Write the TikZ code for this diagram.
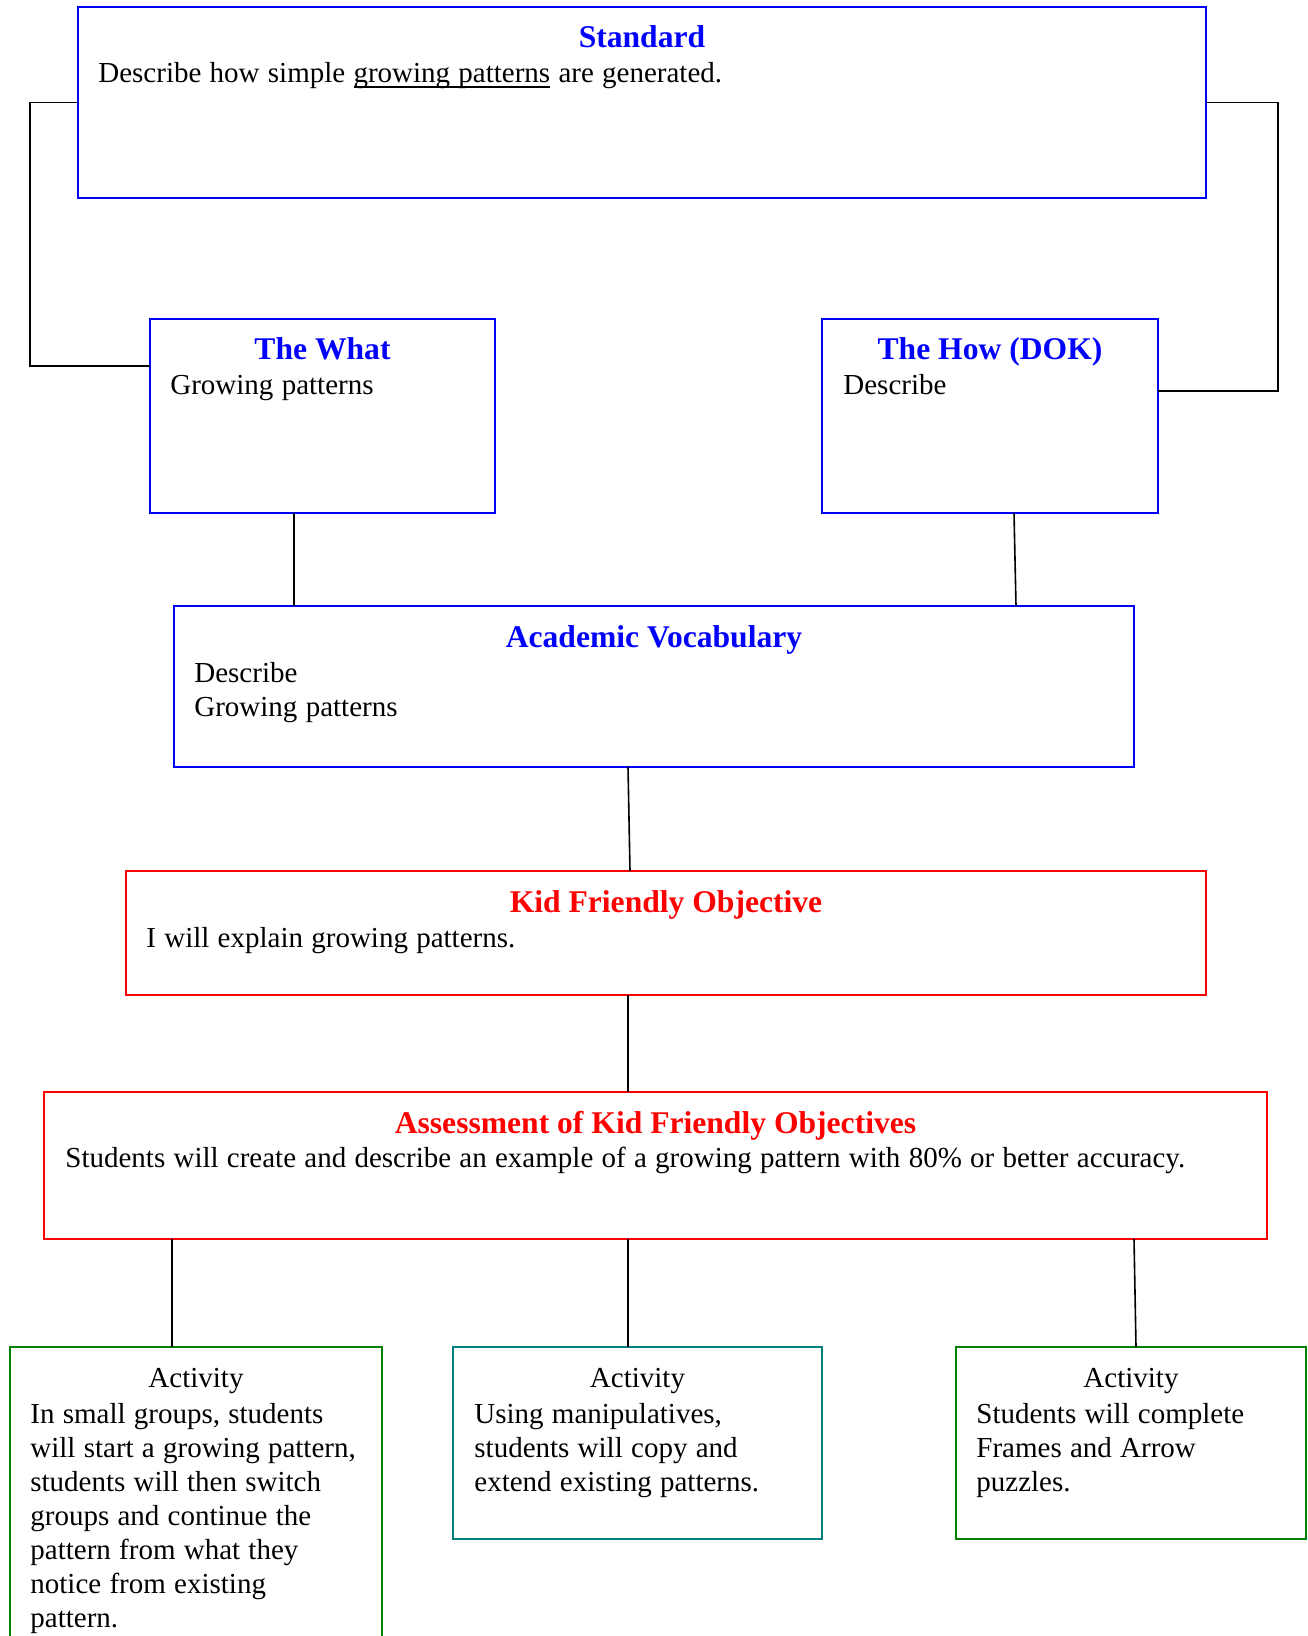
\documentclass[tikz,border=0pt]{standalone}
\usepackage{fontspec}
\setmainfont{Liberation Serif}
\definecolor{stdblue}{RGB}{0,0,255}
\definecolor{kidred}{RGB}{255,0,0}
\definecolor{actgreen}{RGB}{0,128,0}
\definecolor{actteal}{RGB}{0,128,128}
\newcommand\bodyfont{\fontsize{14.5pt}{17pt}\selectfont}
\newcommand\headfont{\fontsize{15.8pt}{17pt}\selectfont\bfseries}
\newcommand\undertext[1]{\setbox0\hbox{#1}\rlap{\rule[-2.6pt]{\wd0}{0.9pt}}\box0\relax}

\begin{document}
\begin{tikzpicture}[x=0.5pt, y=-0.5pt,
  frame/.style = {shape=rectangle, draw, line width=1pt,
    inner sep=0pt, outer sep=0pt, anchor=north west},
  head/.style = {anchor=base, inner sep=0pt, font=\headfont},
  acthead/.style = {anchor=base, inner sep=0pt, font=\bodyfont},
  body/.style = {anchor=base west, inner sep=0pt, align=left,
    text width=600pt, font=\bodyfont,
    execute at begin node={\spaceskip=0.285em\relax}},
  link/.style = {line width=0.8pt}]
  \useasboundingbox (0,0) rectangle (1307,1636);
  \node[frame, draw=stdblue, minimum width=564pt, minimum height=95.5pt] (std) at (78,7) {};
  \node[frame, draw=stdblue, minimum width=172.5pt, minimum height=97pt] (what) at (150,319) {};
  \node[frame, draw=stdblue, minimum width=168pt, minimum height=97pt] (how) at (822,319) {};
  \node[frame, draw=stdblue, minimum width=480pt, minimum height=80.5pt] (voc) at (174,606) {};
  \node[frame, draw=kidred, minimum width=540pt, minimum height=62pt] (kfo) at (126,871) {};
  \node[frame, draw=kidred, minimum width=611.5pt, minimum height=73.5pt] (ass) at (44,1092) {};
  \node[frame, draw=actgreen, minimum width=186pt, minimum height=150pt] (act1) at (10,1347) {};
  \node[frame, draw=actteal, minimum width=184.5pt, minimum height=96pt] (act2) at (453,1347) {};
  \node[frame, draw=actgreen, minimum width=175pt, minimum height=96pt] (act3) at (956,1347) {};

  \node[head, text=stdblue] (stdhead) at ([yshift=-20.5pt]std.north) {Standard};
  \node[body] (stdtext) at ([xshift=10pt, yshift=-38pt]std.north west)
    {Describe how simple \undertext{growing patterns} are generated.};
  \node[head, text=stdblue] (whathead) at ([yshift=-20.5pt]what.north) {The What};
  \node[body] (whattext) at ([xshift=10pt, yshift=-38pt]what.north west) {Growing patterns};
  \node[head, text=stdblue] (howhead) at ([yshift=-20.5pt]how.north) {The How (DOK)};
  \node[body] (howtext) at ([xshift=10.5pt, yshift=-38pt]how.north west) {Describe};
  \node[head, text=stdblue] (vochead) at ([yshift=-20.5pt]voc.north) {Academic Vocabulary};
  \node[body] (voctext) at ([xshift=10pt, yshift=-38pt]voc.north west) {Describe\\Growing patterns};
  \node[head, text=kidred] (kfohead) at ([yshift=-20.5pt]kfo.north) {Kid Friendly Objective};
  \node[body] (kfotext) at ([xshift=10pt, yshift=-38pt]kfo.north west) {I will explain growing patterns.};
  \node[head, text=kidred] (asshead) at ([yshift=-20.5pt]ass.north) {Assessment of Kid Friendly Objectives};
  \node[body] (asstext) at ([xshift=10.5pt, yshift=-37.5pt]ass.north west)
    {Students will create and describe an example of a growing pattern with 80\% or better accuracy.};
  \node[acthead] (act1head) at ([yshift=-20pt]act1.north) {Activity};
  \node[body] (act1text) at ([xshift=10pt, yshift=-38pt]act1.north west)
    {In small groups, students\\will start a growing pattern,\\students will then switch\\groups and continue the\\pattern from what they\\notice from existing\\pattern.};
  \node[acthead] (act2head) at ([yshift=-20pt]act2.north) {Activity};
  \node[body] (act2text) at ([xshift=10.5pt, yshift=-38pt]act2.north west)
    {Using manipulatives,\\students will copy and\\extend existing patterns.};
  \node[acthead] (act3head) at ([yshift=-20pt]act3.north) {Activity};
  \node[body] (act3text) at ([xshift=10pt, yshift=-38pt]act3.north west)
    {Students will complete\\Frames and Arrow\\puzzles.};

  \draw[link] (std.west) -- ++(-24pt,0) |- ([yshift=-23.5pt]what.north west);
  \draw[link] (std.east) -- ++(36pt,0) |- ([yshift=-36pt]how.north east);
  \draw[link] ([xshift=-14.25pt]what.south) -- ([xshift=-14.25pt]what.south |- voc.north);
  \draw[link] ([xshift=12pt]how.south) -- ([xshift=13pt]how.south |- voc.north);
  \draw[link] ([xshift=-13pt]voc.south) -- ([xshift=-12pt]voc.south |- kfo.north);
  \draw[link] ([xshift=-19pt]kfo.south) -- ([xshift=-19pt]kfo.south |- ass.north);
  \draw[link] ([xshift=-12pt]act1.north |- ass.south) -- ([xshift=-12pt]act1.north);
  \draw[link] ([xshift=-4.75pt]act2.north |- ass.south) -- ([xshift=-4.75pt]act2.north);
  \draw[link] ([xshift=1.5pt]act3.north |- ass.south) -- ([xshift=2.5pt]act3.north);
\end{tikzpicture}
\end{document}
